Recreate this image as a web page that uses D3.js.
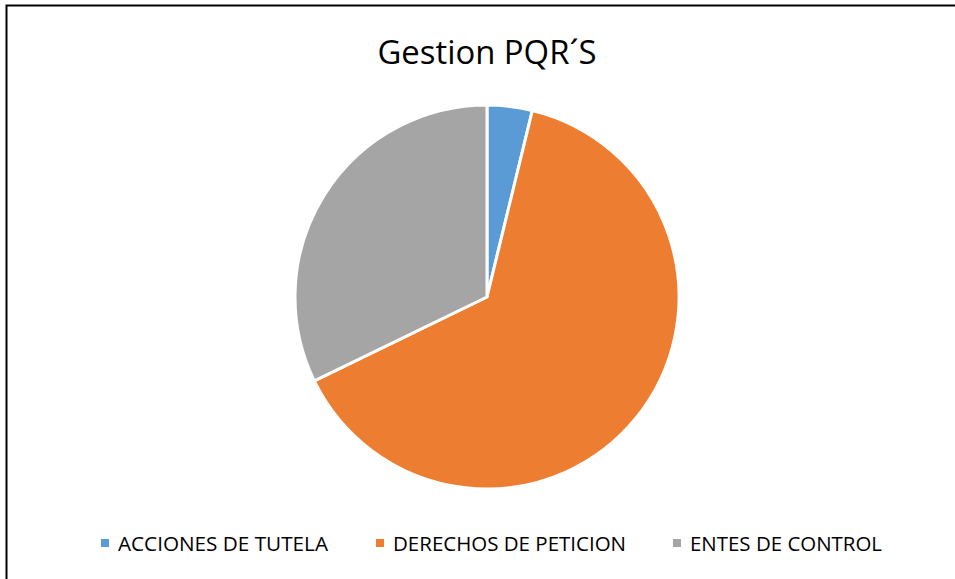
<!DOCTYPE html>
<html>
<head>
<meta charset="utf-8">
<script src="https://cdn.jsdelivr.net/npm/d3@7"></script>
<style>
  body { margin: 0; background: #fff; }
  svg { display: block; }
</style>
</head>
<body>
<svg id="chart" width="955" height="579"></svg>
<script>
// data (percent of total)
const categories = ["ACCIONES DE TUTELA", "DERECHOS DE PETICION", "ENTES DE CONTROL"];
const values = [3.8, 64.0, 32.2];
const colors = ["#5b9bd5", "#ed7d31", "#a5a5a5"];
const title = "Gestion PQR\u00b4S";

const width = 955, height = 579;
const svg = d3.select("#chart");
const font = "'Open Sans', 'Noto Sans', sans-serif";

// frame (only top + left are visible in the window)
svg.append("rect")
  .attr("x", 6.5).attr("y", 5.5)
  .attr("width", 1000).attr("height", 1000)
  .attr("fill", "none")
  .attr("stroke", "#000")
  .attr("stroke-width", 2);

// title
svg.append("text")
  .attr("x", 487).attr("y", 64)
  .attr("text-anchor", "middle")
  .attr("textLength", 219)
  .attr("lengthAdjust", "spacingAndGlyphs")
  .style("font-family", font)
  .style("font-size", "32px")
  .style("fill", "#000")
  .text(title);

// pie
const cx = 487, cy = 297, r = 192;
const pie = d3.pie().sort(null).value(d => d.value);
const arc = d3.arc().innerRadius(0).outerRadius(r);
const pieData = pie(categories.map((c, i) => ({ name: c, value: values[i] })));

const g = svg.append("g").attr("transform", `translate(${cx},${cy})`);
g.selectAll("path")
  .data(pieData)
  .enter()
  .append("path")
  .attr("d", arc)
  .attr("fill", (d, i) => colors[i])
  .attr("stroke", "#fff")
  .attr("stroke-width", 3)
  .attr("stroke-linejoin", "round");

// legend
const legendX = [101, 376, 673];
const legendW = [210, 233, 192];
const legend = svg.append("g").attr("class", "legend");
categories.forEach((c, i) => {
  legend.append("rect")
    .attr("x", legendX[i]).attr("y", 539)
    .attr("width", 8).attr("height", 8)
    .attr("fill", colors[i]);
  legend.append("text")
    .attr("x", legendX[i] + 17).attr("y", 551)
    .attr("textLength", legendW[i])
    .attr("lengthAdjust", "spacingAndGlyphs")
    .style("font-family", font)
    .style("font-size", "20px")
    .style("fill", "#000")
    .text(c);
});
</script>
</body>
</html>
